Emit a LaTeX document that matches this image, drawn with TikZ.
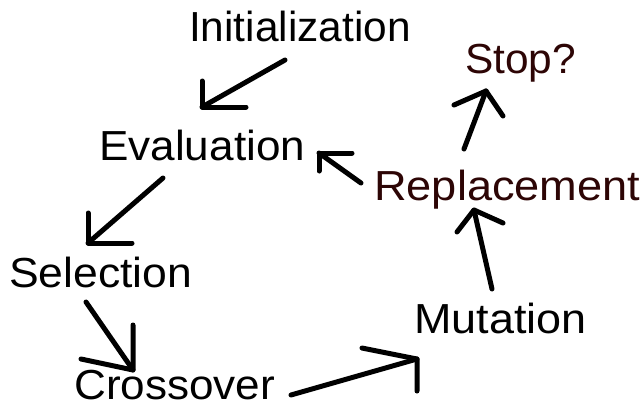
\documentclass[tikz,border=0pt]{standalone}
\usepackage{fontspec}
\setmainfont{Liberation Sans}
\definecolor{darkred}{RGB}{45,5,5}
\begin{document}
\begin{tikzpicture}[x=1pt,y=-1pt,
  lbl/.style={anchor=base west,inner sep=0pt,font=\fontsize{42}{48}\selectfont},
  redlbl/.style={lbl,text=darkred},
  stroke/.style={line width=5pt,line cap=round,line join=round}]
\useasboundingbox[fill=white] (0,0) rectangle (641,408);
% labels
\node[lbl] (init) at (189,41) {\scalebox{1.01}[1]{Initialization}};
\node[lbl] (eval) at (99,160) {\scalebox{1.05}[1]{Evaluation}};
\node[lbl] (sel) at (9,287) {\scalebox{1.06}[1]{Selection}};
\node[lbl] (cross) at (74,399) {\scalebox{1.05}[1]{Crossover}};
\node[lbl] (mut) at (414,333) {\scalebox{1.07}[1]{Mutation}};
\node[redlbl] (repl) at (374,200) {\scalebox{1.075}[1]{Replacement}};
\node[redlbl] (stop) at (465,73) {\scalebox{1.01}[1]{Stop?}};
% arrow coordinates
\coordinate (a1s) at (285,60);  \coordinate (a1t) at (202,107);
\coordinate (a1l) at (202,81);  \coordinate (a1r) at (246,107);
\coordinate (a2s) at (163,178); \coordinate (a2t) at (88,243);
\coordinate (a2l) at (88,213);  \coordinate (a2r) at (132,243);
\coordinate (a3s) at (86,302);  \coordinate (a3t) at (133,370);
\coordinate (a3l) at (133,325); \coordinate (a3r) at (81,359);
\coordinate (a4s) at (291,395); \coordinate (a4t) at (417,359);
\coordinate (a4l) at (362,348); \coordinate (a4r) at (417,391);
\coordinate (a5s) at (492,289); \coordinate (a5t) at (474,210);
\coordinate (a5l) at (457,232); \coordinate (a5r) at (503,223);
\coordinate (a6s) at (464,149); \coordinate (a6t) at (486,91);
\coordinate (a6l) at (454,105); \coordinate (a6r) at (503,116);
\coordinate (a7s) at (361,183); \coordinate (a7t) at (319,153);
\coordinate (a7l) at (319,171); \coordinate (a7r) at (352,153);
% arrows
\foreach \i in {1,...,7}{
  \draw[stroke] (a\i s) -- (a\i t);
  \draw[stroke] (a\i l) -- (a\i t) -- (a\i r);
}
\end{tikzpicture}
\end{document}
